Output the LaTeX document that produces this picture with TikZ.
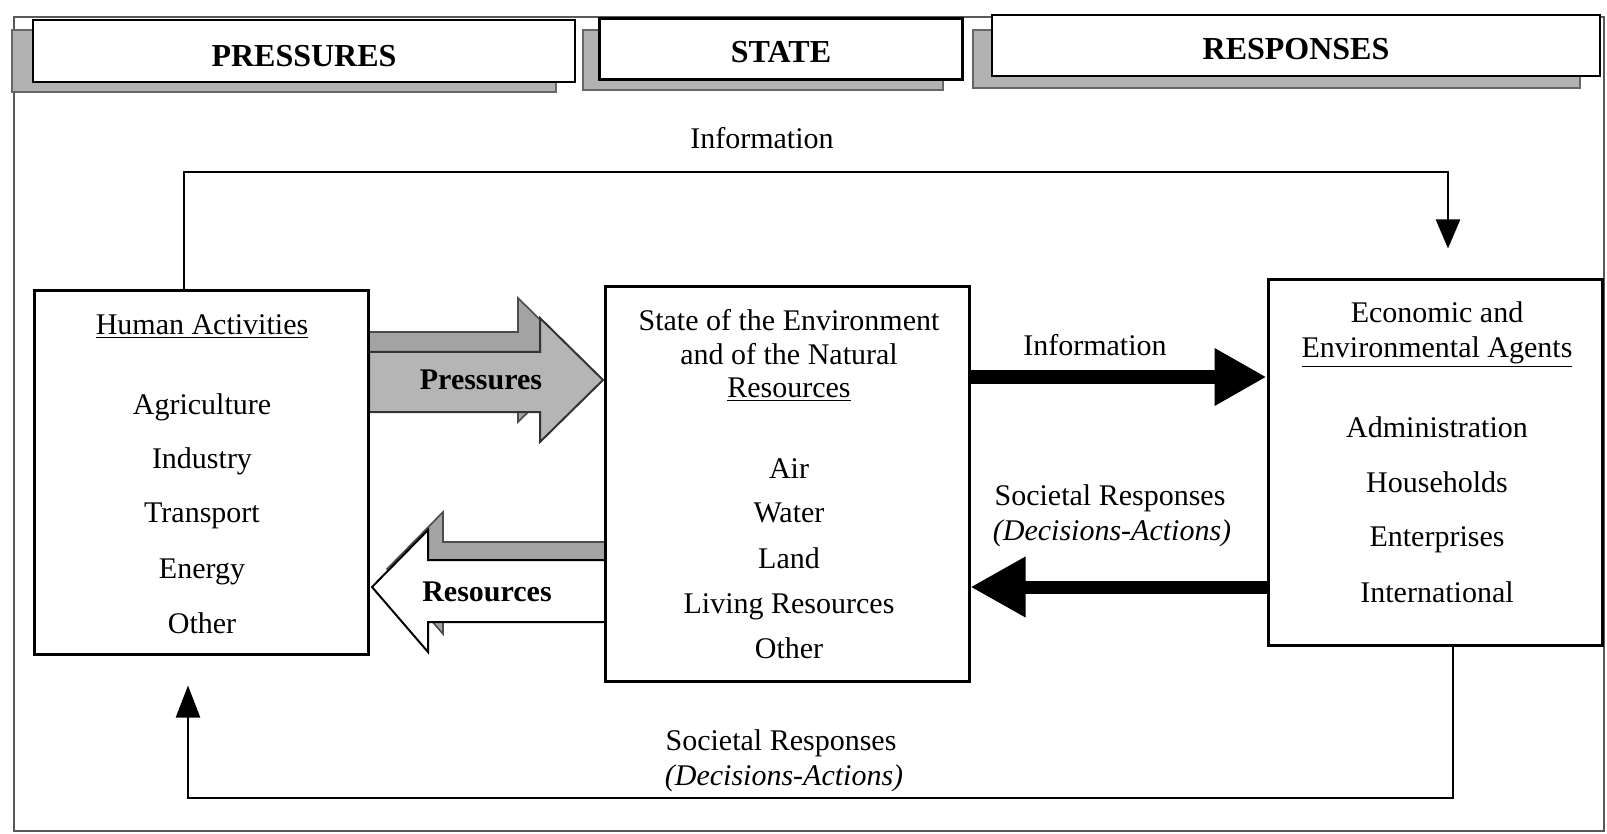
\documentclass[tikz,border=0pt]{standalone}
\usepackage{fontspec}
\setmainfont{Liberation Serif}
\usetikzlibrary{arrows.meta}
\begin{document}
\begin{tikzpicture}[x=0.5pt,y=-0.5pt,
  box/.style={draw=black, line width=1.5pt, fill=white, inner sep=0pt},
  headbox/.style={draw=black, line width=1.2pt, fill=white, inner sep=0pt,
    text depth=0pt, font=\fontsize{16}{19}\selectfont\bfseries},
  headshadow/.style={fill=gray!60, draw=gray!80!black, line width=0.6pt},
  txt/.style={font=\fontsize{15}{18}\selectfont, inner sep=0pt,
    text height=1.45ex, text depth=0.3ex, yshift=-2.5pt},
  conn/.style={draw=black, line width=1.2pt},
  bigarrow/.style={draw=black, line width=6.5pt},
  frontface/.style={fill=gray!58, draw=black!80, line width=1pt, line join=miter},
  backface/.style={fill=gray!72, draw=black!70, line width=0.8pt, line join=miter},
  hollow/.style={fill=white, draw=black, line width=1pt, line join=miter}]

\useasboundingbox (0,0) rectangle (1607,834);

% outer frame
\draw[gray!70!black, line width=1pt] (14,17) rectangle (1604,831);

% column headings with their shadows
\fill[headshadow] (12,30) rectangle (556,92);
\fill[headshadow] (583,30) rectangle (943,90);
\fill[headshadow] (973,30) rectangle (1580,88);
\node[headbox, text height=15.6pt, minimum width=271pt, minimum height=31pt] (hpress) at (304,51) {PRESSURES};
\node[headbox, text height=13.6pt, minimum width=181.5pt, minimum height=30.5pt] (hstate) at (781,49) {STATE};
\node[headbox, text height=14.1pt, minimum width=304pt, minimum height=30.5pt] (hresp) at (1296,45.5) {RESPONSES};

% the "Pressures" block arrow (extruded, grey)
\filldraw[backface] (347,332) -- (518,332) -- (518,298) -- (581,360) -- (518,422)
  -- (518,392) -- (347,392) -- cycle;
\filldraw[frontface] (369,352) -- (540,352) -- (540,318) -- (603,380) -- (540,442)
  -- (540,412) -- (369,412) -- cycle;
\node[txt, font=\fontsize{15}{18}\selectfont\bfseries] (lpress) at (481,379) {Pressures};

% the "Resources" block arrow (hollow, grey top face)
\filldraw[backface] (620,542) -- (443,542) -- (443,512) -- (387,569) -- (443,634)
  -- (443,604) -- (620,604) -- cycle;
\filldraw[hollow] (605,560) -- (428,560) -- (428,530) -- (372,587) -- (428,652)
  -- (428,622) -- (605,622) -- cycle;
\node[txt, font=\fontsize{15}{18}\selectfont\bfseries] (lres) at (487,591) {Resources};

% main boxes
\node[box, minimum width=167pt, minimum height=181.5pt] (human) at (201,472.5) {};
\node[box, minimum width=182pt, minimum height=197pt] (state) at (787,484) {};
\node[box, minimum width=167pt, minimum height=182.5pt] (agents) at (1435,462.5) {};

% human activities
\node[txt] (h0) at (202,324) {\underline{Human Activities}};
\node[txt] (h1) at (202,404) {Agriculture};
\node[txt] (h2) at (202,458) {Industry};
\node[txt] (h3) at (202,512) {Transport};
\node[txt] (h4) at (202,568) {Energy};
\node[txt] (h5) at (202,623) {Other};

% state of the environment
\node[txt] (s0) at (789,320) {State of the Environment};
\node[txt] (s1) at (789,354) {and of the Natural};
\node[txt] (s2) at (789,387) {\underline{Resources}};
\node[txt] (s3) at (789,468) {Air};
\node[txt] (s4) at (789,512) {Water};
\node[txt] (s5) at (789,558) {Land};
\node[txt] (s6) at (789,603) {Living Resources};
\node[txt] (s7) at (789,648) {Other};

% economic and environmental agents
\node[txt] (a0) at (1437,312) {Economic and};
\node[txt] (a1) at (1437,347) {\underline{Environmental Agents}};
\node[txt] (a2) at (1437,427) {Administration};
\node[txt] (a3) at (1437,482) {Households};
\node[txt] (a4) at (1437,536) {Enterprises};
\node[txt] (a5) at (1437,592) {International};

% information flows
\draw[bigarrow, -{Triangle[length=26pt,width=27pt]}]
  (state.east |- 0,377) -- (agents.west |- 0,377);
\node[txt] (linfo) at (1095,345) {Information};

\draw[conn, -{Triangle[length=14.5pt,width=12pt]}, shorten >=15pt]
  (human.north -| 184,0) |- (1448,172) -- (agents.north -| 1448,0);
\node[txt] (ltop) at (762,138) {Information};

% societal responses
\draw[bigarrow, -{Triangle[length=27.5pt,width=28.5pt]}]
  (agents.west |- 0,587) -- (state.east |- 0,587);
\node[txt] (lsoc) at (1110,495) {Societal Responses};
\node[txt] (ldec) at (1112,530) {\textit{(Decisions-Actions)}};

\draw[conn, -{Triangle[length=16pt,width=12pt]}, shorten >=15pt]
  (agents.south -| 1453,0) |- (188,798) -- (human.south -| 188,0);
\node[txt] (lsoc2) at (781,740) {Societal Responses};
\node[txt] (ldec2) at (784,775) {\textit{(Decisions-Actions)}};

\end{tikzpicture}
\end{document}
